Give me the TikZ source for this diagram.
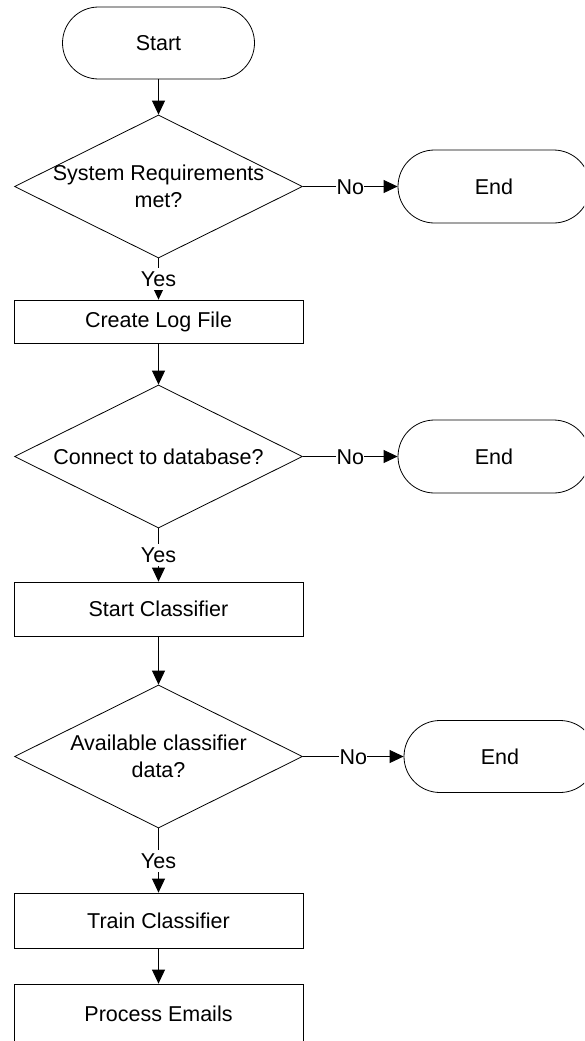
\documentclass[tikz,border=0pt]{standalone}
\usepackage{fontspec}
\setmainfont{Liberation Sans}
\usetikzlibrary{shapes.geometric,shapes.misc,arrows.meta}
\begin{document}
\begin{tikzpicture}[x=1pt,y=-1pt,
  every node/.style={font=\fontsize{21.5}{26.5}\selectfont, text=black},
  terminal/.style={rounded rectangle, draw=black, line width=0.8pt, fill=white,
    minimum width=192pt, minimum height=72pt, inner sep=0pt},
  procbox/.style={rectangle, draw=black, line width=0.8pt, fill=white,
    minimum width=289pt, inner sep=0pt},
  decision/.style={diamond, draw=black, line width=0.8pt, fill=white,
    minimum width=288pt, minimum height=143pt, inner sep=0pt},
  flow/.style={draw=black, line width=0.8pt, -{Triangle[length=14pt,width=13pt]}},
  branch/.style={fill=white, inner xsep=0.5pt, inner ysep=3pt,
    text height=15.5pt, text depth=0.5pt}
]
\useasboundingbox (0,0) rectangle (584,1041);
\clip (0,0) rectangle (584,1041);

% main column
\node[terminal] (start) at (158.5,43) {Start};
\node[decision, label={[align=center]center:System Requirements\\met?}] (d1) at (158.5,186.5) {};
\node[procbox, minimum height=43pt] (log) at (158.5,321.5) {Create Log File};
\node[decision, label={[align=center]center:Connect to database?}] (d2) at (158.5,456.5) {};
\node[procbox, minimum height=54pt] (sc) at (158.5,609) {Start Classifier};
\node[decision, label={[align=center]center:Available classifier\\data?}] (d3) at (158.5,756.5) {};
\node[procbox, minimum height=55pt] (train) at (158.5,920.5) {Train Classifier};
\node[procbox, minimum height=59pt] (proc) at (158.5,1013.5) {Process Emails};

% exits on the right
\node[terminal, minimum height=73pt] (end1) at (494,186.5) {End};
\node[terminal, minimum height=73pt] (end2) at (494,456.5) {End};
\node[terminal, minimum height=72pt] (end3) at (500,756.5) {End};

% connectors
\draw[flow] (start.south) -- (d1.north);
\draw[flow] (d1.south) -- node[branch] (y1) {Yes} (log.north);
\draw[flow] (d1.east) -- node[branch] (n1) {No} (end1.west);
\draw[flow] (log.south) -- (d2.north);
\draw[flow] (d2.south) -- node[branch] (y2) {Yes} (sc.north);
\draw[flow] (d2.east) -- node[branch] (n2) {No} (end2.west);
\draw[flow] (sc.south) -- (d3.north);
\draw[flow] (d3.south) -- node[branch] (y3) {Yes} (train.north);
\draw[flow] (d3.east) -- node[branch] (n3) {No} (end3.west);
\draw[flow] (train.south) -- (proc.north);
\end{tikzpicture}
\end{document}
